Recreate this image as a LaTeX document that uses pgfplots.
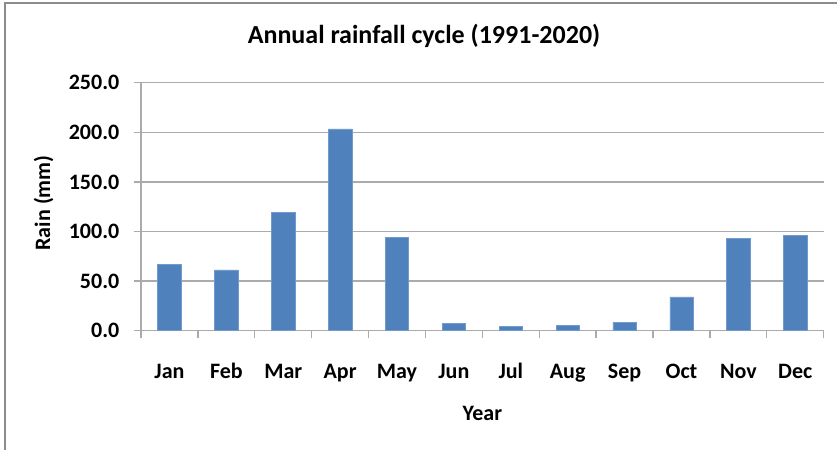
\documentclass[border=0pt]{standalone}
\usepackage{fontspec}
\setmainfont{Carlito}
\usepackage{pgfplots}
\pgfplotsset{compat=1.18}
\definecolor{barblue}{HTML}{4F81BD}
\definecolor{gridgray}{HTML}{ABABAB}
\definecolor{framegray}{HTML}{8C8C8C}
\pgfplotstableread{
idx val
0 66.5
1 61.4
2 119.5
3 203.5
4 94.2
5 7.0
6 4.4
7 5.4
8 8.4
9 34.0
10 93.0
11 96.0
}\raindata
\begin{document}
\begin{tikzpicture}[x=1bp,y=1bp]
\useasboundingbox (0,0) rectangle (837,450);
\draw[framegray, line width=2bp] (4.7,-5) -- (4.7,447.3) -- (845,447.3);
\begin{axis}[
  at={(141bp,119.3bp)}, anchor=south west,
  scale only axis, width=682.7bp, height=248bp,
  xmin=-0.5, xmax=11.5, ymin=0, ymax=250,
  axis lines*=left,
  axis line style={gridgray, line width=1.3bp},
  ytick={0,50,...,250},
  ymajorgrids,
  grid style={gridgray, line width=1.3bp},
  tick align=outside,
  major tick length=7.5bp,
  tick style={gridgray, line width=1.3bp},
  xtick={-0.5,0.5,...,11.5},
  xticklabels={},
  extra x ticks={0,1,...,11},
  extra x tick labels={Jan,Feb,Mar,Apr,May,Jun,Jul,Aug,Sep,Oct,Nov,Dec},
  extra x tick style={tick style={draw=none}, grid=none},
  xticklabel style={font=\fontsize{22bp}{26bp}\selectfont\bfseries, anchor=base, yshift=-40bp},
  yticklabel style={font=\fontsize{22bp}{26bp}\selectfont\bfseries, anchor=east, inner sep=0pt, xshift=-14bp,
    /pgf/number format/.cd, fixed, fixed zerofill, precision=1, assume math mode=true},
  title={Annual rainfall cycle (1991-2020)},
  title style={font=\fontsize{26bp}{30bp}\selectfont\bfseries, at={(axis description cs:0.4145,1.132)}, anchor=base},
  xlabel={Year},
  xlabel style={font=\fontsize{22bp}{26bp}\selectfont\bfseries, at={(axis description cs:0.5,-0.363)}, anchor=base},
  ylabel={Rain (mm)},
  ylabel style={font=\fontsize{22bp}{26bp}\selectfont\bfseries, at={(axis description cs:-0.1428,0.515)}, anchor=center, rotate=0},
  ybar, bar width=23.4bp,
]
\addplot[fill=barblue, draw=barblue!80!white, line width=0.5bp] table[x=idx, y=val] {\raindata};
\end{axis}
\end{tikzpicture}
\end{document}
